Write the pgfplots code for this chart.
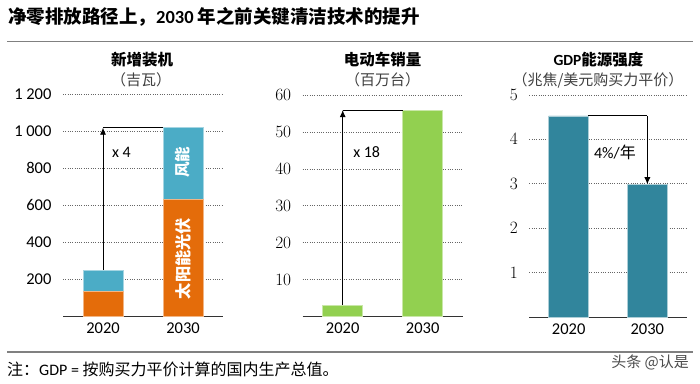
\documentclass[border=0pt]{standalone}
\usepackage{fontspec}
\setmainfont{Carlito}
\newfontfamily\cjk{Noto Sans CJK SC}
\usepackage{pgfplots}
\pgfplotsset{compat=1.18}
\usetikzlibrary{arrows.meta}
\definecolor{solar}{HTML}{E46C0A}
\definecolor{wind}{HTML}{4BACC6}
\definecolor{evgreen}{HTML}{92D050}
\definecolor{tealbar}{HTML}{31859C}
\definecolor{rulegray}{HTML}{808080}
\pgfplotsset{panel/.style={
  scale only axis, anchor=south west,
  xmin=-0.5, xmax=1.5, ymin=0,
  axis x line=bottom, axis y line=left,
  x axis line style={-, draw=black!80, line width=1pt},
  y axis line style={draw=none},
  major tick length=0pt,
  xtick={0,1}, xticklabels={2020,2030},
  ymajorgrids, major grid style={draw=black!60, line width=0.8pt, dash pattern=on 0.8pt off 1.5pt},
  tick label style={font=\fontsize{16.5}{17}\selectfont, text=black},
  yticklabel style={xshift=-8pt},
  xticklabel style={yshift=-3pt},
  bar width=40pt,
  clip=false,
}}
\begin{document}
\begin{tikzpicture}[x=1pt,y=1pt]
\path[use as bounding box] (0,0) rectangle (700,383);
% main title and rules
\node[anchor=west, inner sep=0, font=\fontsize{18.5}{19}\selectfont\bfseries] at (8,366)
  {{\cjk\bfseries 净零排放路径上，}2030 {\cjk\bfseries 年之前关键清洁技术的提升}};
\draw[rulegray, line width=1pt] (7,341.5) -- (693,341.5);
\draw[rulegray, line width=2pt] (7,31.3) -- (693,31.3);
\node[anchor=west, inner sep=0, font=\fontsize{16}{17}\selectfont] at (7,14)
  {{\cjk 注：}GDP = {\cjk 按购买力平价计算的国内生产总值。}};
\node[anchor=east, inner sep=0, text=black!70, font=\cjk\fontsize{15}{16}\selectfont] at (689,20.5)
  {头条 @认是};
% panel titles
\node[inner sep=0, font=\cjk\bfseries\fontsize{15.5}{16}\selectfont] at (142,323) {新增装机};
\node[inner sep=0, text=black!75, font=\cjk\fontsize{15}{16}\selectfont] at (141,303) {（吉瓦）};
\node[inner sep=0, font=\cjk\bfseries\fontsize{15.5}{16}\selectfont] at (382.5,323) {电动车销量};
\node[inner sep=0, text=black!75, font=\cjk\fontsize{15}{16}\selectfont] at (382.5,303) {（百万台）};
\node[inner sep=0, font=\fontsize{15.5}{16}\selectfont] at (598.5,323) {\bfseries GDP{\cjk\bfseries 能源强度}};
\node[inner sep=0, text=black!75, font=\cjk\fontsize{15}{16}\selectfont] at (598,303) {（兆焦/美元购买力平价）};

% Panel 1
\begin{axis}[panel, at={(63pt,67pt)}, width=160pt, height=222pt, ymax=1200, ybar stacked,
  ytick={200,400,600,800,1000,1200}, yticklabels={200,400,600,800,1 000,1 200}]
\addplot[fill=solar, draw=solar!50!white, line width=0.5pt] coordinates {(0,133) (1,631)};
\addplot[fill=wind, draw=wind!50!white, line width=0.5pt] coordinates {(0,114) (1,387)};
\draw[-{Latex[length=7pt,width=6pt]}, line width=0.8pt] (axis cs:0,247) -- (axis cs:0,1018);
\draw[line width=0.8pt] (axis cs:0,1018) -- (axis cs:0.75,1018);
\node[anchor=west, inner sep=0, font=\fontsize{16}{17}\selectfont] at (axis cs:0.11,886) {x 4};
\coordinate (windlab) at (axis cs:1,832);
\coordinate (solarlab) at (axis cs:1,310);
\end{axis}
\node[rotate=90, inner sep=0, text=white, font=\cjk\bfseries\fontsize{15.5}{16}\selectfont] at (windlab) {风能};
\node[rotate=90, inner sep=0, text=white, font=\cjk\bfseries\fontsize{16.2}{17}\selectfont] at (solarlab) {太阳能光伏};

% Panel 2
\begin{axis}[panel, at={(302.7pt,66.3pt)}, width=160pt, height=221.7pt, ymax=60, ybar,
  ytick={10,20,30,40,50,60}]
\addplot[fill=evgreen, draw=evgreen!50!white, line width=0.5pt] coordinates {(0,3.1) (1,55.9)};
\draw[-{Latex[length=7pt,width=6pt]}, line width=0.8pt] (axis cs:0,3.1) -- (axis cs:0,55.9);
\draw[line width=0.8pt] (axis cs:0,55.9) -- (axis cs:0.75,55.9);
\node[anchor=west, inner sep=0, font=\fontsize{16}{17}\selectfont] at (axis cs:0.13,44.6) {x 18};
\end{axis}

% Panel 3
\begin{axis}[panel, at={(529.3pt,66pt)}, width=157.4pt, height=222pt, ymax=5, ybar,
  ytick={1,2,3,4,5}]
\addplot[fill=tealbar, draw=tealbar!40!white, line width=0.5pt] coordinates {(0,4.53) (1,2.99)};
\draw[line width=0.8pt] (axis cs:0.25,4.53) -- (axis cs:1,4.53);
\draw[-{Latex[length=7pt,width=6pt]}, line width=0.8pt] (axis cs:1,4.53) -- (axis cs:1,2.99);
\node[anchor=west, inner sep=0, font=\fontsize{16}{17}\selectfont] at (axis cs:0.32,3.70) {4\%/{\cjk 年}};
\end{axis}
\end{tikzpicture}
\end{document}
